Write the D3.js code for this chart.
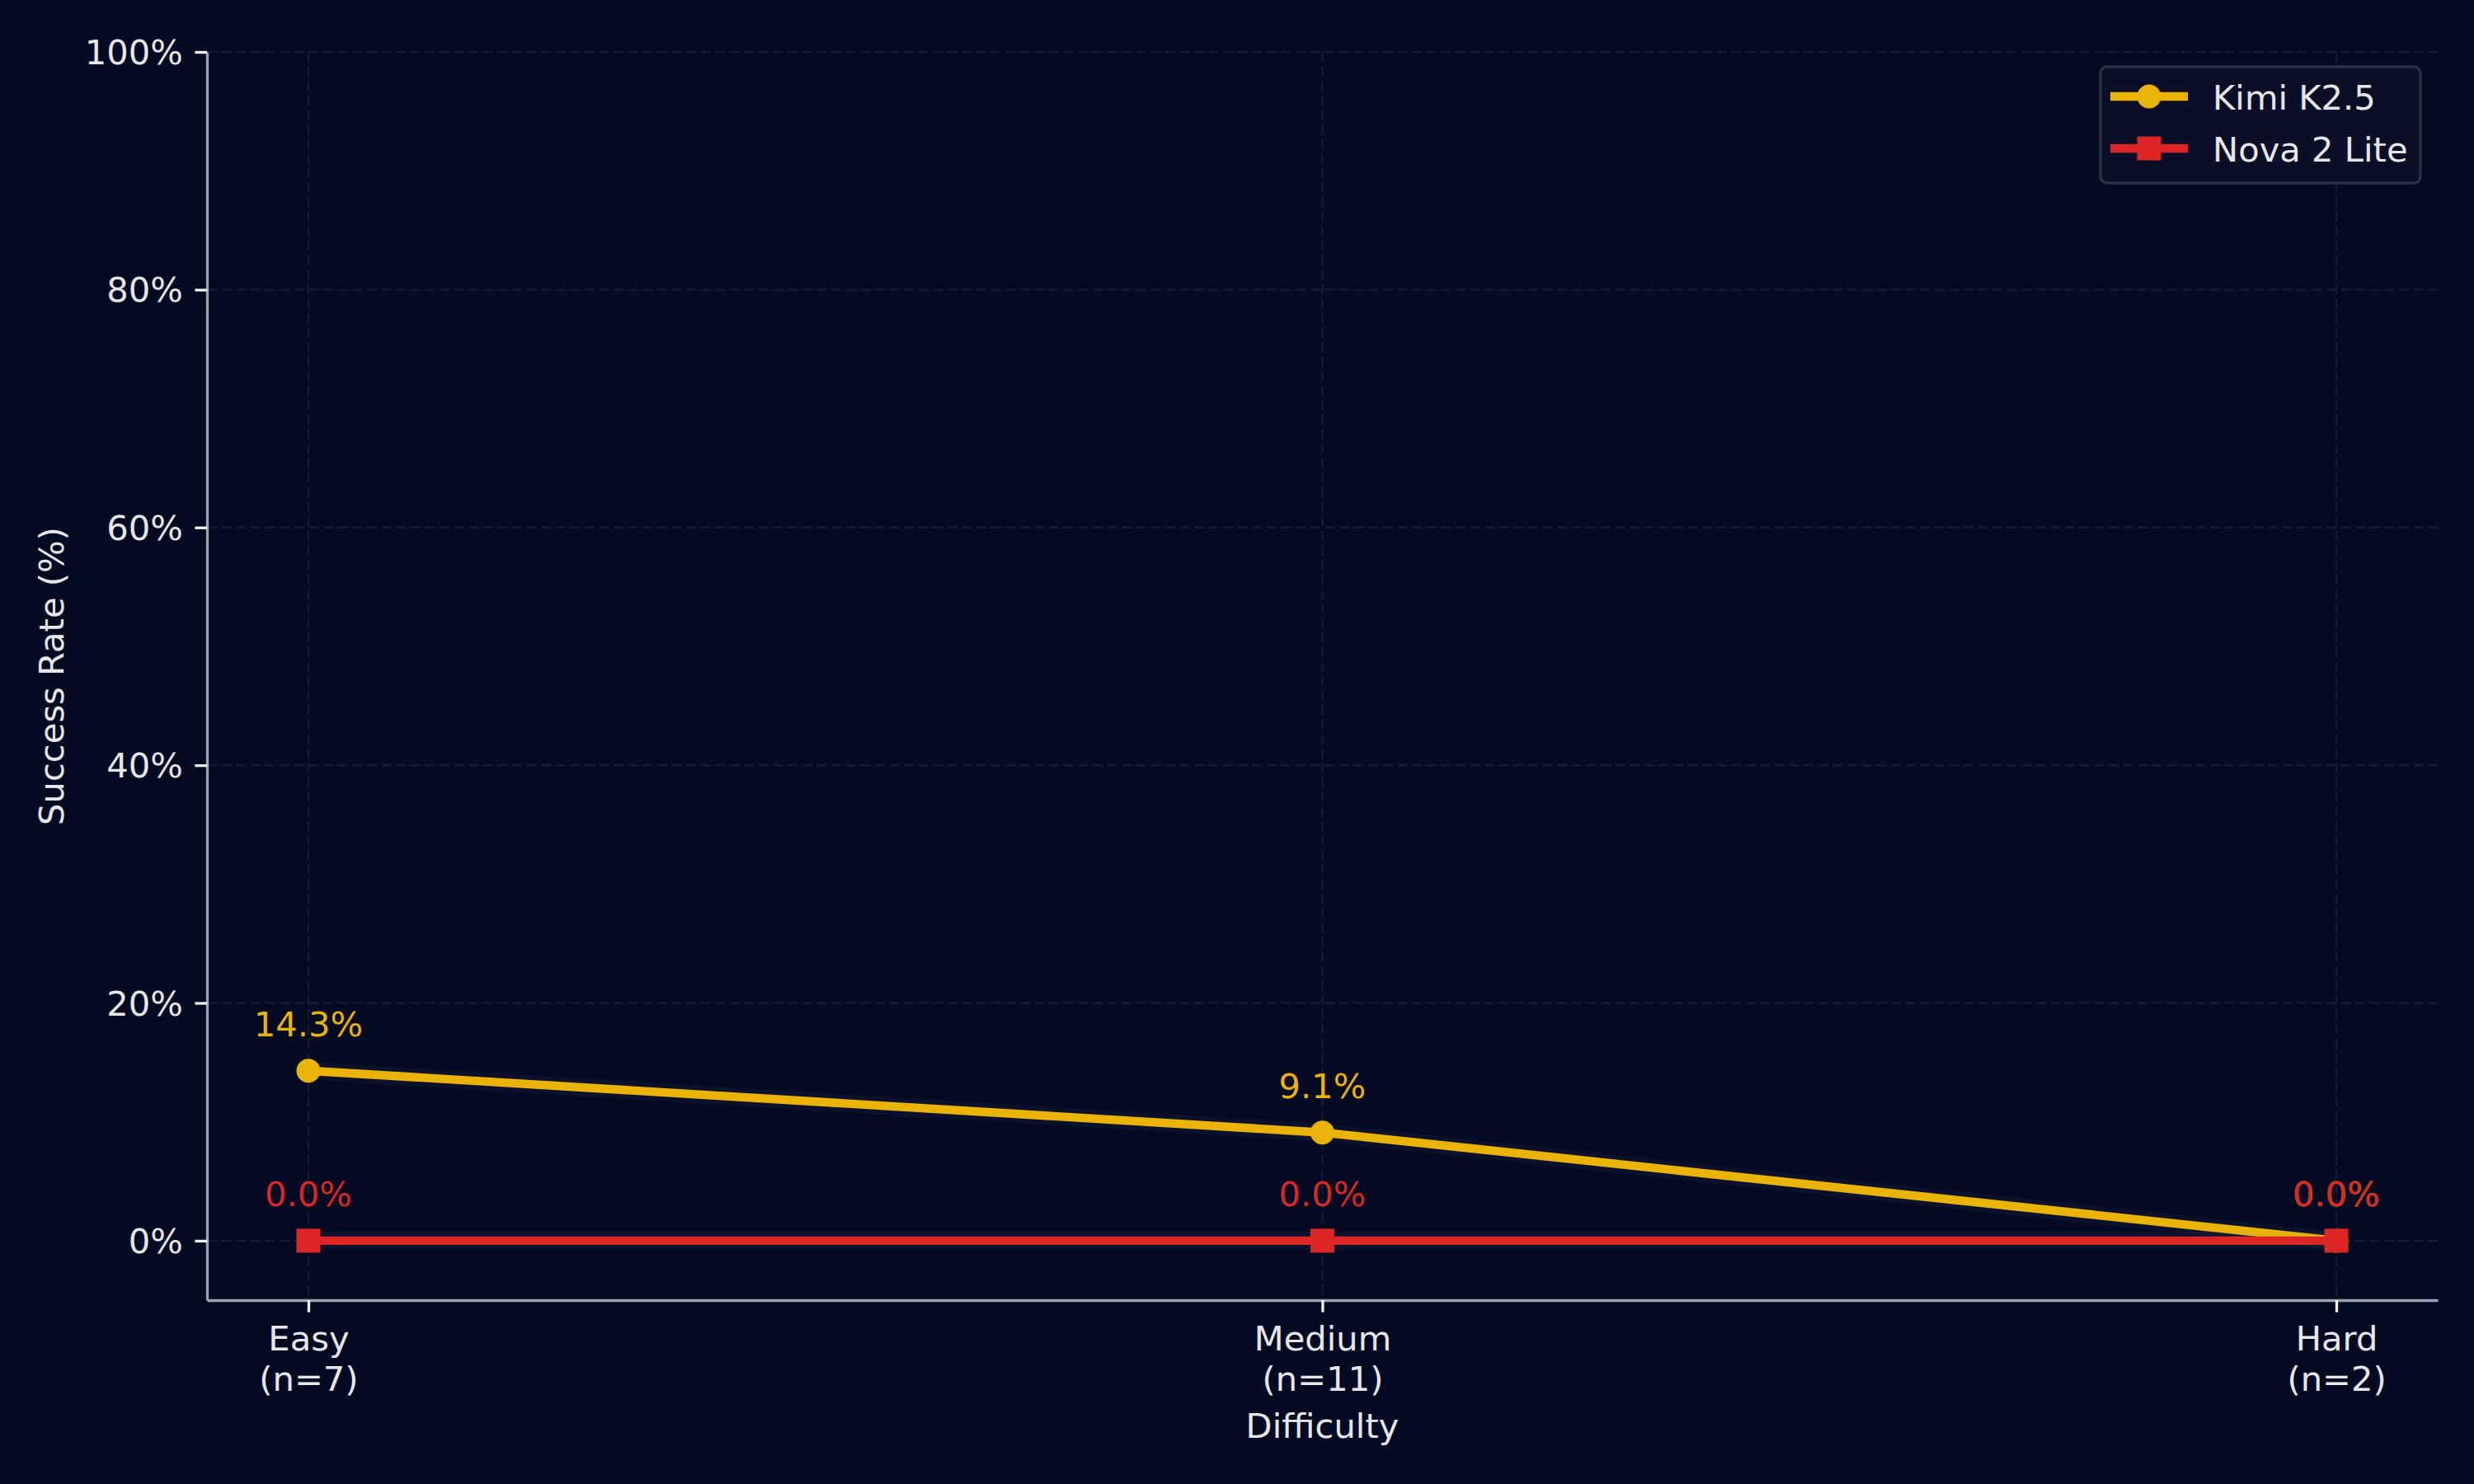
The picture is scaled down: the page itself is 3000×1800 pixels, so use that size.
<!DOCTYPE html>
<html>
<head>
<meta charset="utf-8">
<script src="https://cdn.jsdelivr.net/npm/d3@7"></script>
<style>
  body { margin: 0; background: #040a22; }
  svg { display: block; font-family: "DejaVu Sans", sans-serif; }
</style>
</head>
<body>
<svg id="chart"></svg>
<script>
// difficulty buckets
const categories = ["Easy", "Medium", "Hard"]
const counts = [7, 11, 2]
const seriesNames = ["Kimi K2.5", "Nova 2 Lite"]
// success rate in %
const kimiValues = [14.3, 9.1, 0.0]
const novaValues = [0.0, 0.0, 0.0]
const yTicks = [0, 20, 40, 60, 80, 100]

const colors = { "Kimi K2.5": "#eab308", "Nova 2 Lite": "#dc2626" }
const textColor = "#e5e7eb"
const series = [
    { name: seriesNames[0], values: kimiValues, marker: "circle" },
    { name: seriesNames[1], values: novaValues, marker: "square" }
]

const w = 3000
const h = 1800
const margin = { top: 63, right: 44, bottom: 223, left: 251 }
const width = w - margin.left - margin.right
const height = h - margin.top - margin.bottom
const fs = 41.67

const x = d3.scaleLinear()
    .domain([-0.1, categories.length - 1 + 0.1])
    .range([0, width])
const y = d3.scaleLinear()
    .domain([-5, 100])
    .range([height, 0])

const svg = d3.select("#chart")
    .attr("width", w)
    .attr("height", h)
svg.append("rect").attr("width", w).attr("height", h).attr("fill", "#040a22")

const chart = svg.append("g")
    .attr("transform", `translate(${margin.left}, ${margin.top})`)

// grid
const grid = chart.append("g")
    .attr("stroke", "#151b32")
    .attr("stroke-width", 2.5)
    .attr("stroke-dasharray", "12.3 5.3")
grid.selectAll(".hgrid")
    .data(yTicks)
    .enter()
    .append("line")
    .attr("x1", 0)
    .attr("x2", width)
    .attr("y1", d => y(d))
    .attr("y2", d => y(d))
grid.selectAll(".vgrid")
    .data(categories)
    .enter()
    .append("line")
    .attr("x1", (d, i) => x(i))
    .attr("x2", (d, i) => x(i))
    .attr("y1", 0)
    .attr("y2", height)

// axes
const xAxis = d3.axisBottom(x)
    .tickValues(d3.range(categories.length))
    .tickFormat(() => "")
    .tickSize(14.6)
    .tickSizeOuter(0)
const yAxis = d3.axisLeft(y)
    .tickValues(yTicks)
    .tickFormat(d => d + "%")
    .tickSize(14.6)
    .tickPadding(14.6)
    .tickSizeOuter(0)

const gx = chart.append("g")
    .attr("class", "x axis")
    .attr("transform", `translate(0, ${height})`)
    .call(xAxis)
const gy = chart.append("g")
    .attr("class", "y axis")
    .call(yAxis)

for (const g of [gx, gy]) {
    g.select(".domain").attr("stroke", "#9ca3af").attr("stroke-width", 3.3)
    g.selectAll(".tick line").attr("stroke", "#f3f4f6").attr("stroke-width", 3.3)
    g.selectAll(".tick text")
        .attr("fill", textColor)
        .style("font-size", fs + "px")
        .style("font-family", "DejaVu Sans, sans-serif")
}
gy.selectAll(".tick text").attr("dy", "0.35em")

// two-line x tick labels
gx.selectAll(".tick").each(function (d) {
    const t = d3.select(this).select("text")
        .attr("y", null)
        .attr("dy", null)
    t.append("tspan").attr("x", 0).attr("y", 61).text(categories[d])
    t.append("tspan").attr("x", 0).attr("y", 110).text(`(n=${counts[d]})`)
})

// axis labels
chart.append("text")
    .attr("x", width / 2)
    .attr("y", height + 167)
    .attr("text-anchor", "middle")
    .attr("fill", textColor)
    .style("font-size", fs + "px")
    .text("Difficulty")

chart.append("text")
    .attr("transform", "rotate(-90)")
    .attr("x", -height / 2)
    .attr("y", 77 - margin.left)
    .attr("text-anchor", "middle")
    .attr("fill", textColor)
    .style("font-size", fs + "px")
    .text("Success Rate (%)")

// lines
const lineGen = d3.line()
    .x((d, i) => x(i))
    .y(d => y(d))

function drawMarker(sel, marker, color) {
    if (marker === "circle") {
        sel.append("circle").attr("r", 14.5).attr("fill", color)
    } else {
        sel.append("rect")
            .attr("x", -14.5).attr("y", -14.5)
            .attr("width", 29).attr("height", 29)
            .attr("fill", color)
    }
}

series.forEach(s => {
    const color = colors[s.name]
    const g = chart.append("g")
    // faint halo behind the line
    g.append("path")
        .datum(s.values)
        .attr("d", lineGen)
        .attr("fill", "none")
        .attr("stroke", "#8090c0")
        .attr("stroke-opacity", 0.06)
        .attr("stroke-width", 22)
        .attr("stroke-linejoin", "round")
    g.append("path")
        .datum(s.values)
        .attr("d", lineGen)
        .attr("fill", "none")
        .attr("stroke", color)
        .attr("stroke-width", 10.4)
        .attr("stroke-linejoin", "round")
    g.selectAll(".pt")
        .data(s.values)
        .enter()
        .append("g")
        .attr("transform", (d, i) => `translate(${x(i)}, ${y(d)})`)
        .each(function () { drawMarker(d3.select(this), s.marker, color) })
    g.selectAll(".lbl")
        .data(s.values)
        .enter()
        .append("text")
        .attr("x", (d, i) => x(i))
        .attr("y", d => y(d) - 42)
        .attr("text-anchor", "middle")
        .attr("fill", color)
        .style("font-size", fs + "px")
        .text(d => d.toFixed(1) + "%")
})

// legend
const legend = svg.append("g")
    .attr("class", "legend-box")
    .attr("transform", "translate(2547, 81)")
legend.append("rect")
    .attr("width", 388)
    .attr("height", 141)
    .attr("rx", 8)
    .attr("fill", "#0a0f27")
    .attr("stroke", "#2a3046")
    .attr("stroke-width", 3.3)

const items = legend.selectAll(".item")
    .data(series)
    .enter()
    .append("g")
    .attr("transform", (d, i) => `translate(0, ${36 + 63 * i})`)
items.append("line")
    .attr("x1", 12)
    .attr("x2", 106)
    .attr("stroke", d => colors[d.name])
    .attr("stroke-width", 10.4)
items.append("g")
    .attr("transform", "translate(59, 0)")
    .each(function (d) { drawMarker(d3.select(this), d.marker, colors[d.name]) })
items.append("text")
    .attr("x", 136)
    .attr("y", 16)
    .attr("fill", textColor)
    .style("font-size", fs + "px")
    .text(d => d.name)
</script>
</body>
</html>
